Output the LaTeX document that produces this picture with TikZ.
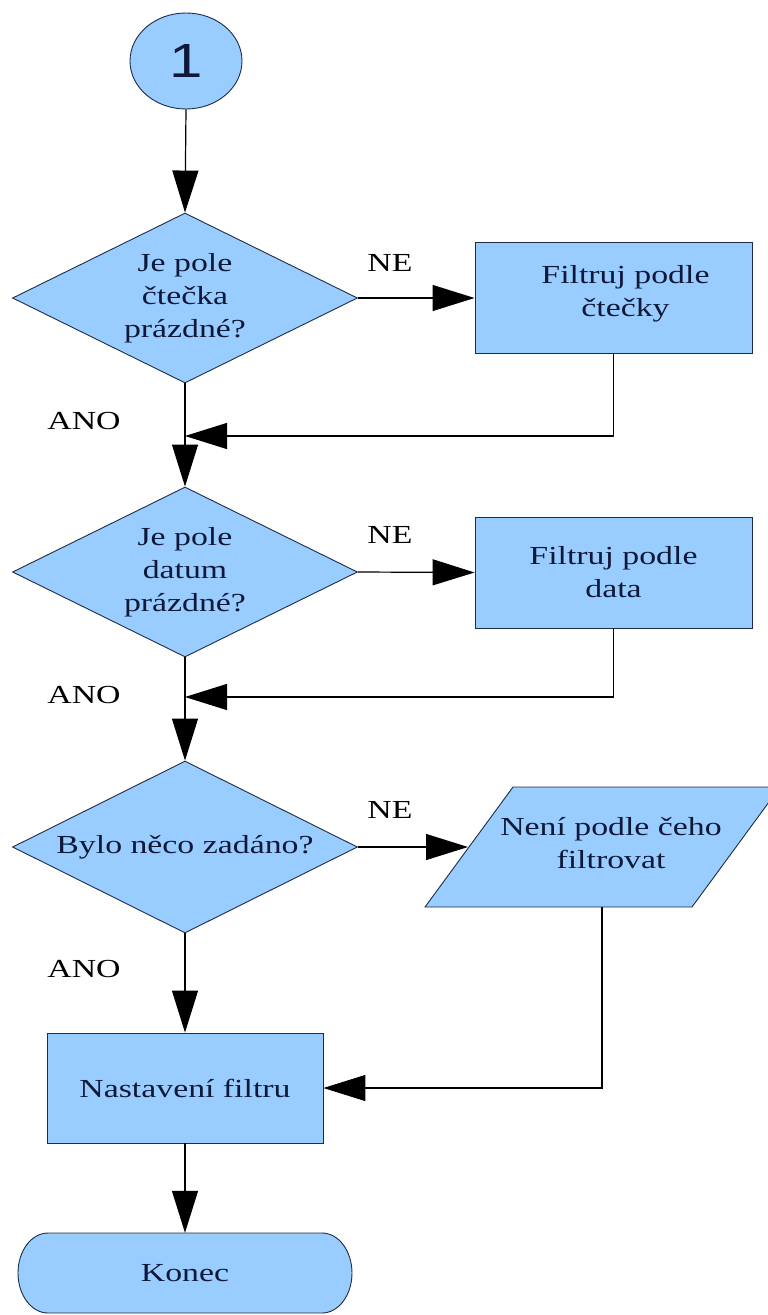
\documentclass[tikz,border=0pt]{standalone}
\usepackage{fontspec}
\setmainfont[FakeStretch=1.3]{Liberation Serif}
\newfontfamily\digitfont[FakeStretch=1.25]{Liberation Sans}
\usetikzlibrary{shapes.geometric,arrows.meta}
\definecolor{boxfill}{RGB}{153,204,255}
\definecolor{boxline}{RGB}{30,45,70}
\definecolor{boxtext}{RGB}{15,25,55}

\begin{document}
\begin{tikzpicture}[x=1pt,y=-1pt,
  shapestyle/.style={fill=boxfill,draw=boxline,line width=0.9pt},
  txt/.style={font=\fontsize{26}{33}\selectfont,text=boxtext,align=center},
  decision/.style={shapestyle,txt,diamond,aspect=2,inner sep=0pt,
    minimum width=345pt,minimum height=170pt},
  process/.style={shapestyle,txt,rectangle,inner sep=0pt,
    minimum width=277pt,minimum height=111pt},
  flow/.style={line width=1.2pt,-{Triangle[length=42pt,width=26pt]}},
  lbl/.style={font=\fontsize{26}{33}\selectfont,text=black}
]
\useasboundingbox (0,0) rectangle (768,1315);
\fill[white] (0,0) rectangle (768,1315);

% start connector
\node[shapestyle,ellipse,inner sep=0pt,minimum width=112pt,minimum height=96pt,
  font=\digitfont\fontsize{48}{48}\selectfont,text=boxtext] (start) at (186,61) {1};

% first decision: reader field
\node[decision] (d1) at (185,298) {Je pole\\čtečka\\prázdné?};
\node[process] (b1) at (613.5,298)
  {\hspace*{24pt}Filtruj podle\\\hspace*{24pt}čtečky\\[-19pt]};

% second decision: date field
\node[decision] (d2) at (185,572) {Je pole\\datum\\prázdné?};
\node[process] (b2) at (613.5,572.5) {Filtruj podle\\data};

% third decision: anything entered
\node[decision,minimum height=172pt] (d3) at (185,847) {Bylo něco zadáno?};
\draw[shapestyle] (425,907) -- (513,787) -- (780,787) -- (692,907) -- cycle;
\node[txt,inner sep=0pt] (p3) at (611,843) {Není podle čeho\\filtrovat};
\coordinate (p3in) at (468,847);
\coordinate (p3out) at (602,907);

% filter setup and end terminal
\node[process,minimum width=276pt,minimum height=110pt] (b3) at (185,1088) {Nastavení filtru};
\draw[shapestyle] (48,1233) -- (322,1233)
  .. controls (338.6,1233) and (352,1250.9) .. (352,1273)
  .. controls (352,1295.1) and (338.6,1313) .. (322,1313)
  -- (48,1313)
  .. controls (31.4,1313) and (18,1295.1) .. (18,1273)
  .. controls (18,1250.9) and (31.4,1233) .. (48,1233) -- cycle;
\node[txt,inner sep=0pt,minimum width=334pt,minimum height=80pt] (k) at (185,1273) {Konec};

% junction points on the main line
\coordinate (j1) at (185,436);
\coordinate (j2) at (185,697);

% connectors
\draw[flow] (start.south) -- (d1.north);
\draw[flow] (d1.east) -- (b1.west);
\draw[flow] (b1.south) |- (j1);
\draw[flow] (d1.south) -- (d2.north);
\draw[flow] (d2.east) -- (b2.west);
\draw[flow] (b2.south) |- (j2);
\draw[flow] (d2.south) -- (d3.north);
\draw[flow] (d3.east) -- (p3in);
\draw[flow] (p3out) |- (b3.east);
\draw[flow] (d3.south) -- (b3.north);
\draw[flow] (b3.south) -- (k.north);

% branch labels
\node[lbl] (ne1) at (390,263) {NE};
\node[lbl] (ano1) at (84,421) {ANO};
\node[lbl] (ne2) at (390,535) {NE};
\node[lbl] (ano2) at (84,695) {ANO};
\node[lbl] (ne3) at (390,810) {NE};
\node[lbl] (ano3) at (84,969) {ANO};
\end{tikzpicture}
\end{document}
